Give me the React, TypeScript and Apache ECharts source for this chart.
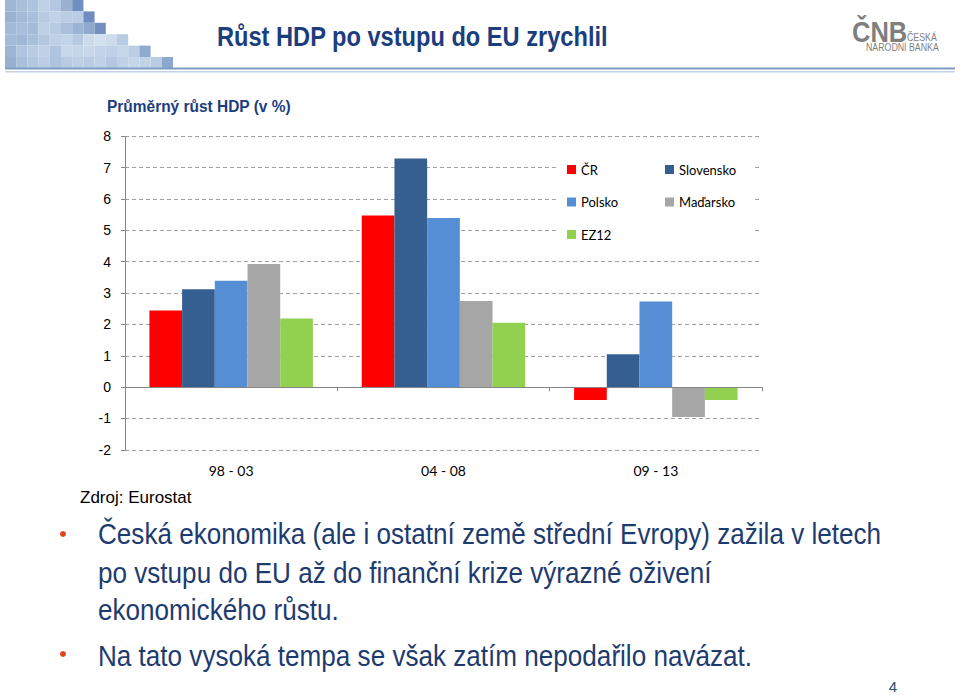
import React, { useEffect, useRef } from "react";
import * as echarts from "echarts";

const categories = ["98 - 03", "04 - 08", "09 - 13"];
const seriesNames = ["ČR", "Slovensko", "Polsko", "Maďarsko", "EZ12"];
const legendLeftColumn = ["ČR", "Polsko", "EZ12"];
const legendRightColumn = ["Slovensko", "Maďarsko"];
const valuesCR = [2.44, 5.47, -0.41];
const valuesSlovensko = [3.12, 7.29, 1.05];
const valuesPolsko = [3.39, 5.39, 2.73];
const valuesMadarsko = [3.93, 2.75, -0.95];
const valuesEZ12 = [2.19, 2.05, -0.41];
const seriesColors = ["#FF0000", "#365F91", "#558ED5", "#A6A6A6", "#92D050"];
const yMin = -2;
const yMax = 8;
const yInterval = 1;

const chartTitle = "Růst HDP po vstupu do EU zrychlil";
const chartSubtitle = "Průměrný růst HDP (v %)";
const sourceText = "Zdroj: Eurostat";
const bodyLines = [
  "Česká ekonomika (ale i ostatní země střední Evropy) zažila v letech",
  "po vstupu do EU až do finanční krize výrazné oživení",
  "ekonomického růstu.",
  "Na tato vysoká tempa se však zatím nepodařilo navázat.",
];
const pageNumber = "4";

// decorative header mosaic (colors per row)
const mosaicRows = [
  ["#9FB7D5", "#A7BFDB", "#AEC4DE", "#BFD1E6", "#B3C8E0", "#9AB2D2", "#6F8FC0"],
  ["#9AB3D3", "#A3BBD8", "#A9C0DC", "#B6CAE2", "#C1D3E8", "#BACDE4", "#B9CCE3", "#6E8DBE"],
  ["#A2BAD8", "#A8BFDB", "#A5BCD9", "#BED0E6", "#B7CBE2", "#A9BFDB", "#9BB4D3", "#90AACD", "#7390BF"],
  ["#A3BBD8", "#A0B8D6", "#A9C0DB", "#B3C8E0", "#BDD0E5", "#C2D4E8", "#B5CAE1", "#CBDBEC", "#D2E0EF", "#CCDCED", "#B7CBE2"],
  ["#9DB5D4", "#B0C5DF", "#B8CCE3", "#C0D2E7", "#AFC4DE", "#C8D8EB", "#C5D6E9", "#C9D9EB", "#C3D4E8", "#BFD1E6", "#C7D7EA", "#BBCEE4", "#8FAAD0"],
  ["#98B1D2", "#A9C0DC", "#B2C7E0", "#BACDE4", "#AEC4DE", "#B7CBE2", "#BDD0E5", "#B9CCE3", "#C0D2E7", "#B4C9E1", "#BFD1E6", "#C6D6E9", "#C2D3E8", "#B9CCE3", "#8DA8CE"],
];

const ARIAL = "'Liberation Sans', Arial, sans-serif";
const CALIBRI = "Lato, 'Open Sans', sans-serif";

export default function App() {
  const ref = useRef<HTMLDivElement>(null);

  useEffect(() => {
    if (!ref.current) return;
    const chart = echarts.init(ref.current, undefined, { renderer: "svg" });

    const seriesData = [valuesCR, valuesSlovensko, valuesPolsko, valuesMadarsko, valuesEZ12];

    const graphics: any[] = [];
    const cw = 11.2;
    const ch = 11.4;
    mosaicRows.forEach((row, r) => {
      row.forEach((c, i) => {
        graphics.push({
          type: "rect",
          shape: { x: 5 + i * cw, y: r * ch, width: cw, height: ch },
          style: { fill: c },
          silent: true,
        });
      });
    });
    graphics.push(
      { type: "rect", shape: { x: 5, y: 67.5, width: 950, height: 2 }, style: { fill: "#7F9DC2" }, silent: true },
      { type: "rect", shape: { x: 5, y: 71, width: 950, height: 1.5 }, style: { fill: "#C3D3E6" }, silent: true },
      {
        type: "text",
        x: 217,
        y: 36,
        scaleX: 0.875,
        style: { text: chartTitle, fill: "#1C3D7E", font: `bold 27px ${ARIAL}`, textVerticalAlign: "middle" },
      },
      {
        type: "text",
        x: 852,
        y: 47,
        scaleX: 0.85,
        style: { text: "ČNB", fill: "#7F7F7F", font: `bold 30px ${ARIAL}`, textVerticalAlign: "bottom" },
      },
      {
        type: "text",
        x: 907,
        y: 37,
        scaleX: 0.88,
        style: { text: "ČESKÁ", fill: "#7F7F7F", font: `10px ${ARIAL}`, textVerticalAlign: "middle" },
      },
      {
        type: "text",
        x: 866,
        y: 47.5,
        scaleX: 0.88,
        style: { text: "NÁRODNÍ BANKA", fill: "#7F7F7F", font: `10px ${ARIAL}`, textVerticalAlign: "middle" },
      },
      {
        type: "text",
        x: 107,
        y: 106,
        scaleX: 0.91,
        style: { text: chartSubtitle, fill: "#1C3D7E", font: `bold 17px ${ARIAL}`, textVerticalAlign: "middle" },
      },
      {
        type: "text",
        x: 80,
        y: 497,
        style: { text: sourceText, fill: "#000000", font: `17px ${ARIAL}`, textVerticalAlign: "middle" },
      },
      { type: "circle", shape: { cx: 63, cy: 534, r: 3 }, style: { fill: "#E8401C" } },
      { type: "circle", shape: { cx: 63, cy: 654, r: 3 }, style: { fill: "#E8401C" } }
    );
    const lineYs = [534, 573, 610, 656];
    bodyLines.forEach((t, i) => {
      graphics.push({
        type: "text",
        x: 98,
        y: lineYs[i],
        scaleX: 0.9,
        style: { text: t, fill: "#1E3B6F", font: `29px ${ARIAL}`, textVerticalAlign: "middle" },
      });
    });
    graphics.push({
      type: "text",
      x: 893,
      y: 686,
      style: { text: pageNumber, fill: "#2E4A6E", font: `15px ${ARIAL}`, textVerticalAlign: "middle", textAlign: "center" },
    });

    const legendCommon = {
      orient: "vertical",
      itemWidth: 9,
      itemHeight: 9,
      itemGap: 19.5,
      icon: "rect",
      backgroundColor: "#FFFFFF",
      textStyle: { fontFamily: CALIBRI, fontSize: 13, color: "#000000" },
      selectedMode: false,
    };

    chart.setOption({
      animation: false,
      backgroundColor: "#FFFFFF",
      grid: { left: 125, top: 136.3, width: 637, height: 313.5, containLabel: false },
      legend: [
        {
          ...legendCommon,
          data: legendLeftColumn,
          left: 556,
          top: 157,
          padding: [6, 50, 8, 11],
        },
        {
          ...legendCommon,
          data: legendRightColumn,
          left: 654,
          top: 157,
          padding: [6, 18, 42, 11],
        },
      ],
      xAxis: [
        {
          type: "category",
          data: categories,
          axisLine: { show: true, onZero: true, lineStyle: { color: "#868686", width: 1 } },
          axisTick: { show: true, length: 4, lineStyle: { color: "#868686" } },
          axisLabel: { show: false },
          splitLine: { show: false },
          z: 5,
        },
        {
          type: "category",
          data: categories,
          position: "bottom",
          axisLine: { show: false, onZero: false },
          axisTick: { show: false },
          axisLabel: { show: true, margin: 14, fontSize: 14, fontFamily: CALIBRI, color: "#000000" },
          splitLine: { show: false },
        },
      ],
      yAxis: {
        type: "value",
        min: yMin,
        max: yMax,
        interval: yInterval,
        axisLine: { show: true, lineStyle: { color: "#868686", width: 1 } },
        axisTick: { show: true, length: 4, lineStyle: { color: "#868686" } },
        axisLabel: { margin: 14, fontSize: 14, fontFamily: ARIAL, color: "#000000" },
        splitLine: { show: true, lineStyle: { type: [4, 3], color: "#A0A0A0", width: 1 } },
      },
      series: seriesNames.map((name, i) => ({
        name,
        type: "bar",
        xAxisIndex: 0,
        data: seriesData[i],
        barGap: "0%",
        barCategoryGap: "23%",
        itemStyle: { color: seriesColors[i] },
      })),
      graphic: graphics,
    });

    return () => chart.dispose();
  }, []);

  return (
    <div
      ref={ref}
      style={{ position: "absolute", left: 0, top: 0, width: 960, height: 696, background: "#fff" }}
    />
  );
}
